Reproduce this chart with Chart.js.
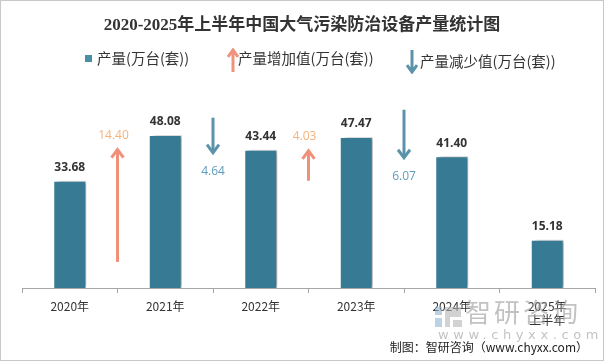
<!DOCTYPE html>
<html>
<head>
<meta charset="utf-8">
<script src="https://cdn.jsdelivr.net/npm/chart.js@4"></script>
<style>
  html, body { margin: 0; padding: 0; background: #fff; }
  #wrap { position: relative; width: 604px; height: 361px; overflow: hidden;
    font-family: "Noto Sans CJK SC", "Noto Sans", sans-serif; }
  #chart { position: absolute; left: 0; top: 0; }
  .frame { position: absolute; left: 0; top: 0; width: 604px; height: 361px;
    box-sizing: border-box; border: 1px solid #c8c8c8; pointer-events: none; }
  .title { position: absolute; left: 0; width: 604px; top: 10px; text-align: center;
    font: bold 17px "Liberation Serif", "Noto Sans CJK SC", serif; color: #333; }
  .legend { position: absolute; top: 48px; font-size: 14.5px; color: #333; white-space: nowrap; line-height: 20px; }
  .legend svg, .legend i { position: absolute; }
  .wm { position: absolute; left: 0; top: 0; color: #9a9a9a; opacity: 0.6; }
  .wm .big { position: absolute; left: 465px; top: 294px; font-size: 26px; letter-spacing: 3px; white-space: nowrap; line-height: 34px; }
  .wm .url { position: absolute; left: 438px; top: 327px; font: 13px "DejaVu Sans", sans-serif;
    letter-spacing: 4.6px; white-space: nowrap; line-height: 16px; }
  .src { position: absolute; right: 16px; top: 338px; font-size: 12px; color: #222; white-space: nowrap; line-height: 18px; }
</style>
</head>
<body>
<div id="wrap">
  <canvas id="chart" width="604" height="361"></canvas>
  <div class="title">2020-2025年上半年中国大气污染防治设备产量统计图</div>
  <div class="legend" style="left:85px">
    <i style="left:0;top:7px;width:7px;height:7px;background:#4a8fa6"></i>
    <span style="margin-left:12px">产量(万台(套))</span>
  </div>
  <div class="legend" style="left:227px">
    <svg width="12" height="24" style="left:0;top:0px"><path d="M6 24 V3 M1 9 L6 2 L11 9" stroke="#f0927c" stroke-width="3" fill="none"/></svg>
    <span style="margin-left:11px">产量增加值(万台(套))</span>
  </div>
  <div class="legend" style="left:406px;top:51px">
    <svg width="12" height="24" style="left:0;top:-1px"><path d="M6 0 V21 M1 15 L6 22 L11 15" stroke="#5b93aa" stroke-width="3" fill="none"/></svg>
    <span style="margin-left:14px">产量减少值(万台(套))</span>
  </div>
  <div class="wm">
    <svg width="30" height="22" style="position:absolute;left:434px;top:306px">
      <rect x="1" y="1" width="7" height="8" fill="#8fb3cf"/>
      <rect x="1" y="12" width="7" height="9" fill="#8fb3cf"/>
      <path d="M11 1 H27 V11 H16 V21 H11 Z" fill="#b5b5b5"/>
      <path d="M19 14 H28 V21 H19 Z" fill="#b5b5b5"/>
    </svg>
    <div class="big">智研咨询</div>
    <div class="url">www.chyxx.com</div>
  </div>
  <div class="src">制图：智研咨询（www.chyxx.com）</div>
  <div class="frame"></div>
</div>
<script>
const years = ["2020年", "2021年", "2022年", "2023年", "2024年", ["2025年", "上半年"]];
const output = [33.68, 48.08, 43.44, 47.47, 41.40, 15.18];

// arrows sit between category i and i+1
const arrowGap = [0, 1, 2, 3];
const arrowFrom = [8.2, 53.5, 33.7, 56.0];
const arrowTo = [43.8, 42.2, 43.4, 40.6];
const arrowValue = ["14.40", "4.64", "4.03", "6.07"];

const upColor = "#f0907a";
const downColor = "#5b93aa";
const upText = "#f4b27c";
const downText = "#5e9cbd";

const shadowPlugin = {
  id: "barShadow",
  beforeDatasetDraw(chart, args) {
    if (args.index !== 0) return;
    const c = chart.ctx;
    c.save();
    c.shadowColor = "rgba(0,0,0,0.35)";
    c.shadowOffsetX = 4;
    c.shadowOffsetY = 0;
    c.shadowBlur = 4;
  },
  afterDatasetDraw(chart, args) {
    if (args.index !== 0) return;
    chart.ctx.restore();
  },
};

const extrasPlugin = {
  id: "extras",
  afterDatasetsDraw(chart) {
    const c = chart.ctx;
    const x = chart.scales.x;
    const y = chart.scales.y;
    const meta = chart.getDatasetMeta(0);

    c.save();
    c.font = "bold 12px 'Open Sans', 'DejaVu Sans', sans-serif";
    c.fillStyle = "#333";
    c.textAlign = "center";
    c.textBaseline = "middle";
    meta.data.forEach((bar, i) => {
      c.fillText(output[i].toFixed(2), bar.x, bar.y - 13);
    });

    c.font = "12px 'Open Sans', 'DejaVu Sans', sans-serif";
    arrowGap.forEach((g, k) => {
      const px = (x.getPixelForValue(g) + x.getPixelForValue(g + 1)) / 2;
      const y0 = y.getPixelForValue(arrowFrom[k]);
      const y1 = y.getPixelForValue(arrowTo[k]);
      const up = arrowTo[k] > arrowFrom[k];
      const dir = up ? 1 : -1;
      c.strokeStyle = up ? upColor : downColor;
      c.lineWidth = 3;
      c.lineCap = "butt";
      c.beginPath();
      c.moveTo(px, y0);
      c.lineTo(px, y1 + dir * 1);
      c.stroke();
      c.beginPath();
      c.moveTo(px - 6, y1 + dir * 9);
      c.lineTo(px, y1 + dir * 1);
      c.lineTo(px + 6, y1 + dir * 9);
      c.stroke();
      c.fillStyle = up ? upText : downText;
      if (up) c.fillText(arrowValue[k], px - 4, y1 - 13);
      else c.fillText(arrowValue[k], px, y1 + 18);
    });
    c.restore();
  },
};

new Chart(document.getElementById("chart"), {
  type: "bar",
  data: {
    labels: years,
    datasets: [
      {
        label: "产量(万台(套))",
        data: output,
        backgroundColor: "#367a93",
        borderColor: "#ffffff",
        borderWidth: 1,
        categoryPercentage: 1,
        barPercentage: 0.345,
      },
    ],
  },
  options: {
    responsive: false,
    animation: false,
    events: [],
    layout: { padding: { left: 22, right: 9, top: 97, bottom: 33 } },
    plugins: { legend: { display: false }, title: { display: false }, tooltip: { enabled: false } },
    scales: {
      x: {
        afterFit(axis) { axis.height = 40; },
        grid: { drawOnChartArea: false, drawTicks: true, tickLength: 5, color: "#a6a6a6", offset: true },
        border: { display: true, color: "#a6a6a6" },
        ticks: { color: "#333", font: { size: 12, family: "'Noto Sans CJK SC', sans-serif" }, padding: 6, maxRotation: 0 },
      },
      y: {
        display: false,
        min: 0,
        max: 60,
      },
    },
  },
  plugins: [shadowPlugin, extrasPlugin],
});
</script>
</body>
</html>
